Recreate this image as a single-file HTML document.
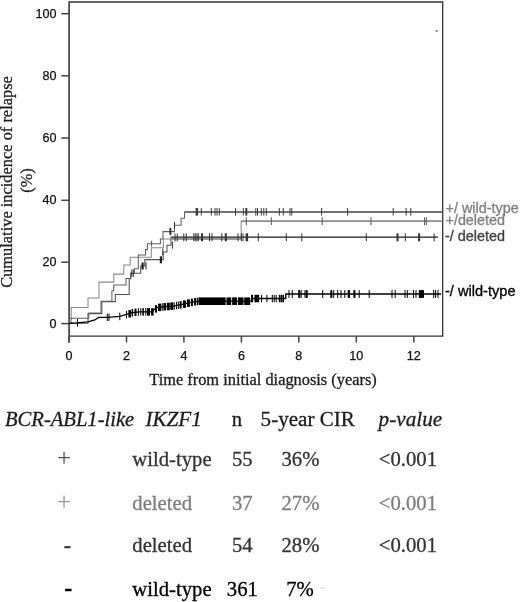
<!DOCTYPE html>
<html><head><meta charset="utf-8"><title>Cumulative incidence of relapse</title>
<style>html,body{margin:0;padding:0;background:#fff;}body{width:520px;height:602px;position:relative;overflow:hidden}</style>
</head><body>
<svg width="520" height="602" viewBox="0 0 520 602" style="position:absolute;left:0;top:0">
<g fill="none" stroke="#444" stroke-width="1.5">
<path d="M69 2H442.7V336.2H69" stroke="#333" stroke-width="1.3"/>
<path d="M69.1 342.5V1.35" stroke-width="1.7"/>
<path d="M61.3 323.6H69"/>
<path d="M61.3 262.2H69"/>
<path d="M61.3 200.3H69"/>
<path d="M61.3 138.0H69"/>
<path d="M61.3 75.8H69"/>
<path d="M61.3 13.7H69"/>
<path d="M69.0 336V342.5"/>
<path d="M126.5 336V342.5"/>
<path d="M183.9 336V342.5"/>
<path d="M241.4 336V342.5"/>
<path d="M298.8 336V342.5"/>
<path d="M356.3 336V342.5"/>
<path d="M413.8 336V342.5"/>
</g>
<g font-family="'Liberation Sans', Arial, sans-serif" font-size="12.6" fill="#111" stroke="#111" stroke-width="0.25">
<text x="56.6" y="327.9" text-anchor="end">0</text>
<text x="56.6" y="266.0" text-anchor="end">20</text>
<text x="56.6" y="204.1" text-anchor="end">40</text>
<text x="56.6" y="142.2" text-anchor="end">60</text>
<text x="56.6" y="80.3" text-anchor="end">80</text>
<text x="56.6" y="18.3" text-anchor="end">100</text>
<text x="69.0" y="360.2" text-anchor="middle">0</text>
<text x="126.5" y="360.2" text-anchor="middle">2</text>
<text x="183.9" y="360.2" text-anchor="middle">4</text>
<text x="241.4" y="360.2" text-anchor="middle">6</text>
<text x="298.8" y="360.2" text-anchor="middle">8</text>
<text x="356.3" y="360.2" text-anchor="middle">10</text>
<text x="413.8" y="360.2" text-anchor="middle">12</text>
</g>
<g font-family="'Liberation Serif', 'Times New Roman', serif" fill="#1c1c1c" stroke="#1c1c1c" stroke-width="0.3">
<text x="263" y="385" font-size="16.36" text-anchor="middle">Time from initial diagnosis (years)</text>
<text transform="translate(12.2,182) rotate(-90)" font-size="16.4" text-anchor="middle">Cumulative incidence of relapse</text>
<text transform="translate(32.3,180.5) rotate(-90)" font-size="16.4" text-anchor="middle">(%)</text>
</g>
<path d="M69 323.4H71.2V307.5H88V298H99V282.1H113.8V274.1H123.8V265H130.2V257.2H151.3V247.7H163.4V239.0H241.2V221.1H442.4" fill="none" stroke="#8a8a8a" stroke-width="1.05"/>
<path d="M69 323.2H88V313.6H101.8V301.6H115.3V294.5H129.2V278.6H130.8V273.2H140.7V266H144.8V259.6H163.2V252H167V245.2H171V237.3H438" fill="none" stroke="#505050" stroke-width="1.05"/>
<path d="M69 323.4H69.8V318.2H88.8V313H101V301.2H111.9V290.8H113.7V285H126V278.5H130.6V273.2H134.4V268.8H138.3V254.9H145.5V249.6H147.4V243.7H160.4V239H163V231.6H174.4V225.3H181.1V218.2H184.5V211.9H442.4" fill="none" stroke="#606060" stroke-width="1.05"/>
<path d="M69 323.4L77 322.9L88 321.8L94.8 320L98.6 317.4H107.5L119.8 316.4L126.5 314.4L132 312.6L140 311.8H152L156.3 307.6L165 306.6L175 305.8L182 304.4L188.5 302.8L195 301.6L200 301.1H252.5V298.5H285.8V294H441" fill="none" stroke="#000" stroke-width="1.3"/>
<path d="M241.2 221.1H442.4M171 239H241.2" fill="none" stroke="#8a8a8a" stroke-width="1.45"/>
<path d="M171 237.3H438" fill="none" stroke="#505050" stroke-width="1.4"/>
<path d="M184.5 211.9H442.4" fill="none" stroke="#606060" stroke-width="1.45"/>
<rect x="195.6" y="208.0" width="2.5" height="7.6" fill="#3c3c3c"/>
<rect x="200.8" y="208.0" width="1" height="7.6" fill="#3c3c3c"/>
<rect x="210.8" y="208.0" width="1" height="7.6" fill="#3c3c3c"/>
<rect x="214.5" y="208.0" width="1" height="7.6" fill="#3c3c3c"/>
<rect x="216.5" y="208.0" width="1" height="7.6" fill="#3c3c3c"/>
<rect x="218.8" y="208.0" width="1" height="7.6" fill="#3c3c3c"/>
<rect x="235.0" y="208.0" width="1" height="7.6" fill="#3c3c3c"/>
<rect x="242.8" y="208.0" width="1" height="7.6" fill="#3c3c3c"/>
<rect x="245.3" y="208.0" width="2" height="7.6" fill="#3c3c3c"/>
<rect x="255.3" y="208.0" width="1" height="7.6" fill="#3c3c3c"/>
<rect x="257.0" y="208.0" width="1" height="7.6" fill="#3c3c3c"/>
<rect x="260.8" y="208.0" width="1" height="7.6" fill="#3c3c3c"/>
<rect x="263.3" y="208.0" width="1" height="7.6" fill="#3c3c3c"/>
<rect x="265.8" y="208.0" width="1" height="7.6" fill="#3c3c3c"/>
<rect x="278.8" y="208.0" width="1" height="7.6" fill="#3c3c3c"/>
<rect x="282.8" y="208.0" width="1" height="7.6" fill="#3c3c3c"/>
<rect x="289.5" y="208.0" width="1" height="7.6" fill="#3c3c3c"/>
<rect x="291.3" y="208.0" width="1" height="7.6" fill="#3c3c3c"/>
<rect x="321.1" y="208.0" width="1" height="7.6" fill="#3c3c3c"/>
<rect x="347.1" y="208.0" width="1" height="7.6" fill="#3c3c3c"/>
<rect x="392.7" y="208.0" width="1" height="7.6" fill="#3c3c3c"/>
<rect x="405.6" y="208.0" width="1" height="7.6" fill="#3c3c3c"/>
<rect x="410.3" y="208.0" width="1" height="7.6" fill="#3c3c3c"/>
<rect x="245.8" y="217.3" width="1" height="7.8" fill="#555"/>
<rect x="270.8" y="217.3" width="1" height="7.8" fill="#555"/>
<rect x="321.7" y="217.3" width="1" height="7.8" fill="#555"/>
<rect x="370.5" y="217.3" width="1" height="7.8" fill="#555"/>
<rect x="424.1" y="217.3" width="1" height="7.8" fill="#555"/>
<rect x="425.8" y="217.3" width="1" height="7.8" fill="#555"/>
<rect x="183.3" y="233.3" width="1" height="8" fill="#333"/>
<rect x="185.8" y="233.3" width="1" height="8" fill="#333"/>
<rect x="193.3" y="233.3" width="1" height="8" fill="#333"/>
<rect x="194.8" y="233.3" width="1" height="8" fill="#333"/>
<rect x="196.5" y="233.3" width="1" height="8" fill="#333"/>
<rect x="197.8" y="233.3" width="1" height="8" fill="#333"/>
<rect x="201.0" y="233.3" width="2" height="8" fill="#333"/>
<rect x="209.0" y="233.3" width="1" height="8" fill="#333"/>
<rect x="211.5" y="233.3" width="1" height="8" fill="#333"/>
<rect x="221.3" y="233.3" width="1" height="8" fill="#333"/>
<rect x="224.8" y="233.3" width="2" height="8" fill="#333"/>
<rect x="237.5" y="233.3" width="1" height="8" fill="#333"/>
<rect x="240.8" y="233.3" width="1" height="8" fill="#333"/>
<rect x="242.5" y="233.3" width="1" height="8" fill="#333"/>
<rect x="245.6" y="233.3" width="2.5" height="8" fill="#333"/>
<rect x="257.8" y="233.3" width="1" height="8" fill="#333"/>
<rect x="285.8" y="233.3" width="1" height="8" fill="#333"/>
<rect x="301.3" y="233.3" width="1" height="8" fill="#333"/>
<rect x="365.8" y="233.3" width="1" height="8" fill="#333"/>
<rect x="396.5" y="233.3" width="2" height="8" fill="#333"/>
<rect x="404.8" y="233.3" width="1" height="8" fill="#333"/>
<rect x="418.1" y="233.3" width="2" height="8" fill="#333"/>
<rect x="433.6" y="233.3" width="1" height="8" fill="#333"/>
<rect x="288.5" y="290.1" width="1" height="7.8" fill="#000"/>
<rect x="291.8" y="290.1" width="1" height="7.8" fill="#000"/>
<rect x="298.2" y="290.1" width="2" height="7.8" fill="#000"/>
<rect x="300.7" y="290.1" width="1" height="7.8" fill="#000"/>
<rect x="304.5" y="290.1" width="1" height="7.8" fill="#000"/>
<rect x="305.7" y="290.1" width="2" height="7.8" fill="#000"/>
<rect x="322.2" y="290.1" width="1" height="7.8" fill="#000"/>
<rect x="330.3" y="290.1" width="2" height="7.8" fill="#000"/>
<rect x="333.2" y="290.1" width="1" height="7.8" fill="#000"/>
<rect x="337.2" y="290.1" width="1" height="7.8" fill="#000"/>
<rect x="340.5" y="290.1" width="1" height="7.8" fill="#000"/>
<rect x="344.3" y="290.1" width="1" height="7.8" fill="#000"/>
<rect x="347.7" y="290.1" width="2.3" height="7.8" fill="#000"/>
<rect x="353.4" y="290.1" width="2" height="7.8" fill="#000"/>
<rect x="358.7" y="290.1" width="1" height="7.8" fill="#000"/>
<rect x="368.7" y="290.1" width="1" height="7.8" fill="#000"/>
<rect x="391.5" y="290.1" width="1" height="7.8" fill="#000"/>
<rect x="394.7" y="290.1" width="1" height="7.8" fill="#000"/>
<rect x="404.5" y="290.1" width="1" height="7.8" fill="#000"/>
<rect x="406.8" y="290.1" width="1" height="7.8" fill="#000"/>
<rect x="413.0" y="290.1" width="1" height="7.8" fill="#000"/>
<rect x="415.5" y="290.1" width="1" height="7.8" fill="#000"/>
<rect x="418.8" y="290.1" width="5.2" height="7.8" fill="#000"/>
<rect x="433.2" y="290.1" width="1" height="7.8" fill="#000"/>
<rect x="435.1" y="290.1" width="1" height="7.8" fill="#000"/>
<rect x="437.5" y="290.1" width="1" height="7.8" fill="#000"/>
<rect x="251.0" y="294.8" width="2" height="7.5" fill="#000"/>
<rect x="254.4" y="294.8" width="4.8" height="7.5" fill="#000"/>
<rect x="261.0" y="294.8" width="1" height="7.5" fill="#000"/>
<rect x="266.4" y="294.8" width="1" height="7.5" fill="#000"/>
<rect x="271.8" y="294.8" width="1" height="7.5" fill="#000"/>
<rect x="273.7" y="294.8" width="1" height="7.5" fill="#000"/>
<rect x="275.7" y="294.8" width="1" height="7.5" fill="#000"/>
<rect x="278.8" y="294.8" width="1.6" height="7.5" fill="#000"/>
<rect x="280.7" y="294.8" width="1.4" height="7.5" fill="#000"/>
<rect x="282.4" y="294.8" width="1.6" height="7.5" fill="#000"/>
<rect x="199" y="297.4" width="26.6" height="7.6" fill="#000"/>
<rect x="226.5" y="297.4" width="4.7" height="7.6" fill="#000"/>
<rect x="232.1" y="297.4" width="4.9" height="7.6" fill="#000"/>
<rect x="237.9" y="297.4" width="5.6" height="7.6" fill="#000"/>
<rect x="244.2" y="297.4" width="6.0" height="7.6" fill="#000"/>
<rect x="77.0" y="319.1" width="1" height="7.5" fill="#000"/>
<rect x="106.8" y="313.6" width="1" height="7.5" fill="#000"/>
<rect x="108.5" y="313.5" width="1" height="7.5" fill="#000"/>
<rect x="119.3" y="312.6" width="1" height="7.5" fill="#000"/>
<rect x="126.0" y="310.8" width="1" height="7.5" fill="#000"/>
<rect x="128.4" y="310.0" width="2.5" height="7.5" fill="#000"/>
<rect x="131.6" y="309.0" width="1.5" height="7.5" fill="#000"/>
<rect x="134.5" y="308.6" width="2" height="7.5" fill="#000"/>
<rect x="137.9" y="308.3" width="1" height="7.5" fill="#000"/>
<rect x="140.3" y="308.1" width="1" height="7.5" fill="#000"/>
<rect x="142.4" y="308.1" width="1.5" height="7.5" fill="#000"/>
<rect x="145.3" y="308.1" width="1" height="7.5" fill="#000"/>
<rect x="147.0" y="308.1" width="3" height="7.5" fill="#000"/>
<rect x="151.1" y="308.1" width="2.5" height="7.5" fill="#000"/>
<rect x="155.0" y="305.1" width="2" height="7.5" fill="#000"/>
<rect x="158.1" y="303.6" width="3" height="7.5" fill="#000"/>
<rect x="161.7" y="303.2" width="1" height="7.5" fill="#000"/>
<rect x="163.4" y="303.0" width="2.5" height="7.5" fill="#000"/>
<rect x="166.8" y="302.7" width="3" height="7.5" fill="#000"/>
<rect x="170.3" y="302.4" width="3" height="7.5" fill="#000"/>
<rect x="173.7" y="302.2" width="1" height="7.5" fill="#000"/>
<rect x="176.0" y="301.8" width="1" height="7.5" fill="#000"/>
<rect x="177.8" y="301.5" width="1" height="7.5" fill="#000"/>
<rect x="179.6" y="301.1" width="2" height="7.5" fill="#000"/>
<rect x="182.9" y="300.4" width="3" height="7.5" fill="#000"/>
<rect x="186.9" y="299.4" width="3" height="7.5" fill="#000"/>
<rect x="190.9" y="298.6" width="2" height="7.5" fill="#000"/>
<rect x="194.1" y="298.0" width="2" height="7.5" fill="#000"/>
<rect x="196.8" y="297.7" width="1.5" height="7.5" fill="#000"/>
<rect x="198.7" y="297.5" width="1" height="7.5" fill="#000"/>
<rect x="131.3" y="269.4" width="1" height="7.5" fill="#333"/>
<rect x="132.9" y="269.4" width="1" height="7.5" fill="#333"/>
<rect x="141.5" y="262.5" width="2.2" height="7" fill="#222"/>
<rect x="145.5" y="262.5" width="1" height="7" fill="#222"/>
<rect x="159.8" y="256.3" width="2.2" height="7" fill="#222"/>
<rect x="162.3" y="248.5" width="1" height="7" fill="#333"/>
<rect x="171.9" y="241.7" width="1" height="7" fill="#333"/>
<rect x="169.5" y="227.9" width="1.8" height="7" fill="#222"/>
<rect x="174.0" y="221.8" width="1" height="7" fill="#333"/>
<rect x="174.5" y="233.5" width="1" height="8" fill="#333"/>
<rect x="176.7" y="233.5" width="1" height="8" fill="#333"/>
<rect x="151.1" y="240.7" width="1" height="6" fill="#555"/>
<rect x="435.7" y="30.3" width="2" height="1.3" fill="#444"/>
<g font-family="'Liberation Sans', Arial, sans-serif" font-size="13.8" stroke-width="0.3">
<text x="445.5" y="213.3" fill="#808080" stroke="#808080" textLength="73.3" lengthAdjust="spacingAndGlyphs">+/ wild-type</text>
<text x="445.5" y="224.6" fill="#808080" stroke="#808080" textLength="59.5" lengthAdjust="spacingAndGlyphs">+/deleted</text>
<text x="445" y="240.7" fill="#404040" stroke="#404040" textLength="60" lengthAdjust="spacingAndGlyphs">-/ deleted</text>
<text x="445" y="295.5" fill="#000" stroke="#000" textLength="70.5" lengthAdjust="spacingAndGlyphs">-/ wild-type</text>
</g>
<g font-family="'Liberation Serif', 'Times New Roman', serif" font-size="20.7" stroke-width="0.3">
<g fill="#1c1c1c" stroke="#1c1c1c">
<text x="5" y="426" font-style="italic" font-size="20.6">BCR-ABL1-like</text>
<text x="145.4" y="426" font-style="italic" font-size="21.2">IKZF1</text>
<text x="231.8" y="426">n</text>
<text x="260.6" y="425.6" font-size="21.1">5-year CIR</text>
<text x="378.6" y="425.8" font-style="italic" font-size="21.2">p-value</text>
</g>
<g fill="#333" stroke="#333">
<text x="64" y="466.3" text-anchor="middle" font-size="25" fill="#555" stroke="none">+</text>
<text x="132.3" y="466.3">wild-type</text>
<text x="242.3" y="466.3" text-anchor="middle">55</text>
<text x="300.4" y="466.3" text-anchor="middle">36%</text>
<text x="378.8" y="466.3">&lt;0.001</text>
</g>
<g fill="#7d7d7d" stroke="#7d7d7d">
<text x="64" y="509.6" text-anchor="middle" font-size="25" fill="#999" stroke="none">+</text>
<text x="132.3" y="509.6">deleted</text>
<text x="242.3" y="509.6" text-anchor="middle">37</text>
<text x="300.4" y="509.6" text-anchor="middle">27%</text>
<text x="378.8" y="509.6">&lt;0.001</text>
</g>
<g fill="#333" stroke="#333">
<text x="67.3" y="551.9" text-anchor="middle" font-size="22" font-weight="bold">-</text>
<text x="132.3" y="552.4">deleted</text>
<text x="242.3" y="552.4" text-anchor="middle">54</text>
<text x="300.4" y="552.4" text-anchor="middle">28%</text>
<text x="378.8" y="552.4">&lt;0.001</text>
</g>
<g fill="#000" stroke="#000">
<text x="68.2" y="595.5" text-anchor="middle" font-size="24" font-weight="bold">-</text>
<text x="132.3" y="596">wild-type</text>
<text x="242.3" y="596" text-anchor="middle">361</text>
<text x="300" y="596" text-anchor="middle">7%</text>
</g>
<rect x="320.5" y="587.6" width="4.5" height="1" fill="#ccc"/>
</g>
</svg>
</body></html>
